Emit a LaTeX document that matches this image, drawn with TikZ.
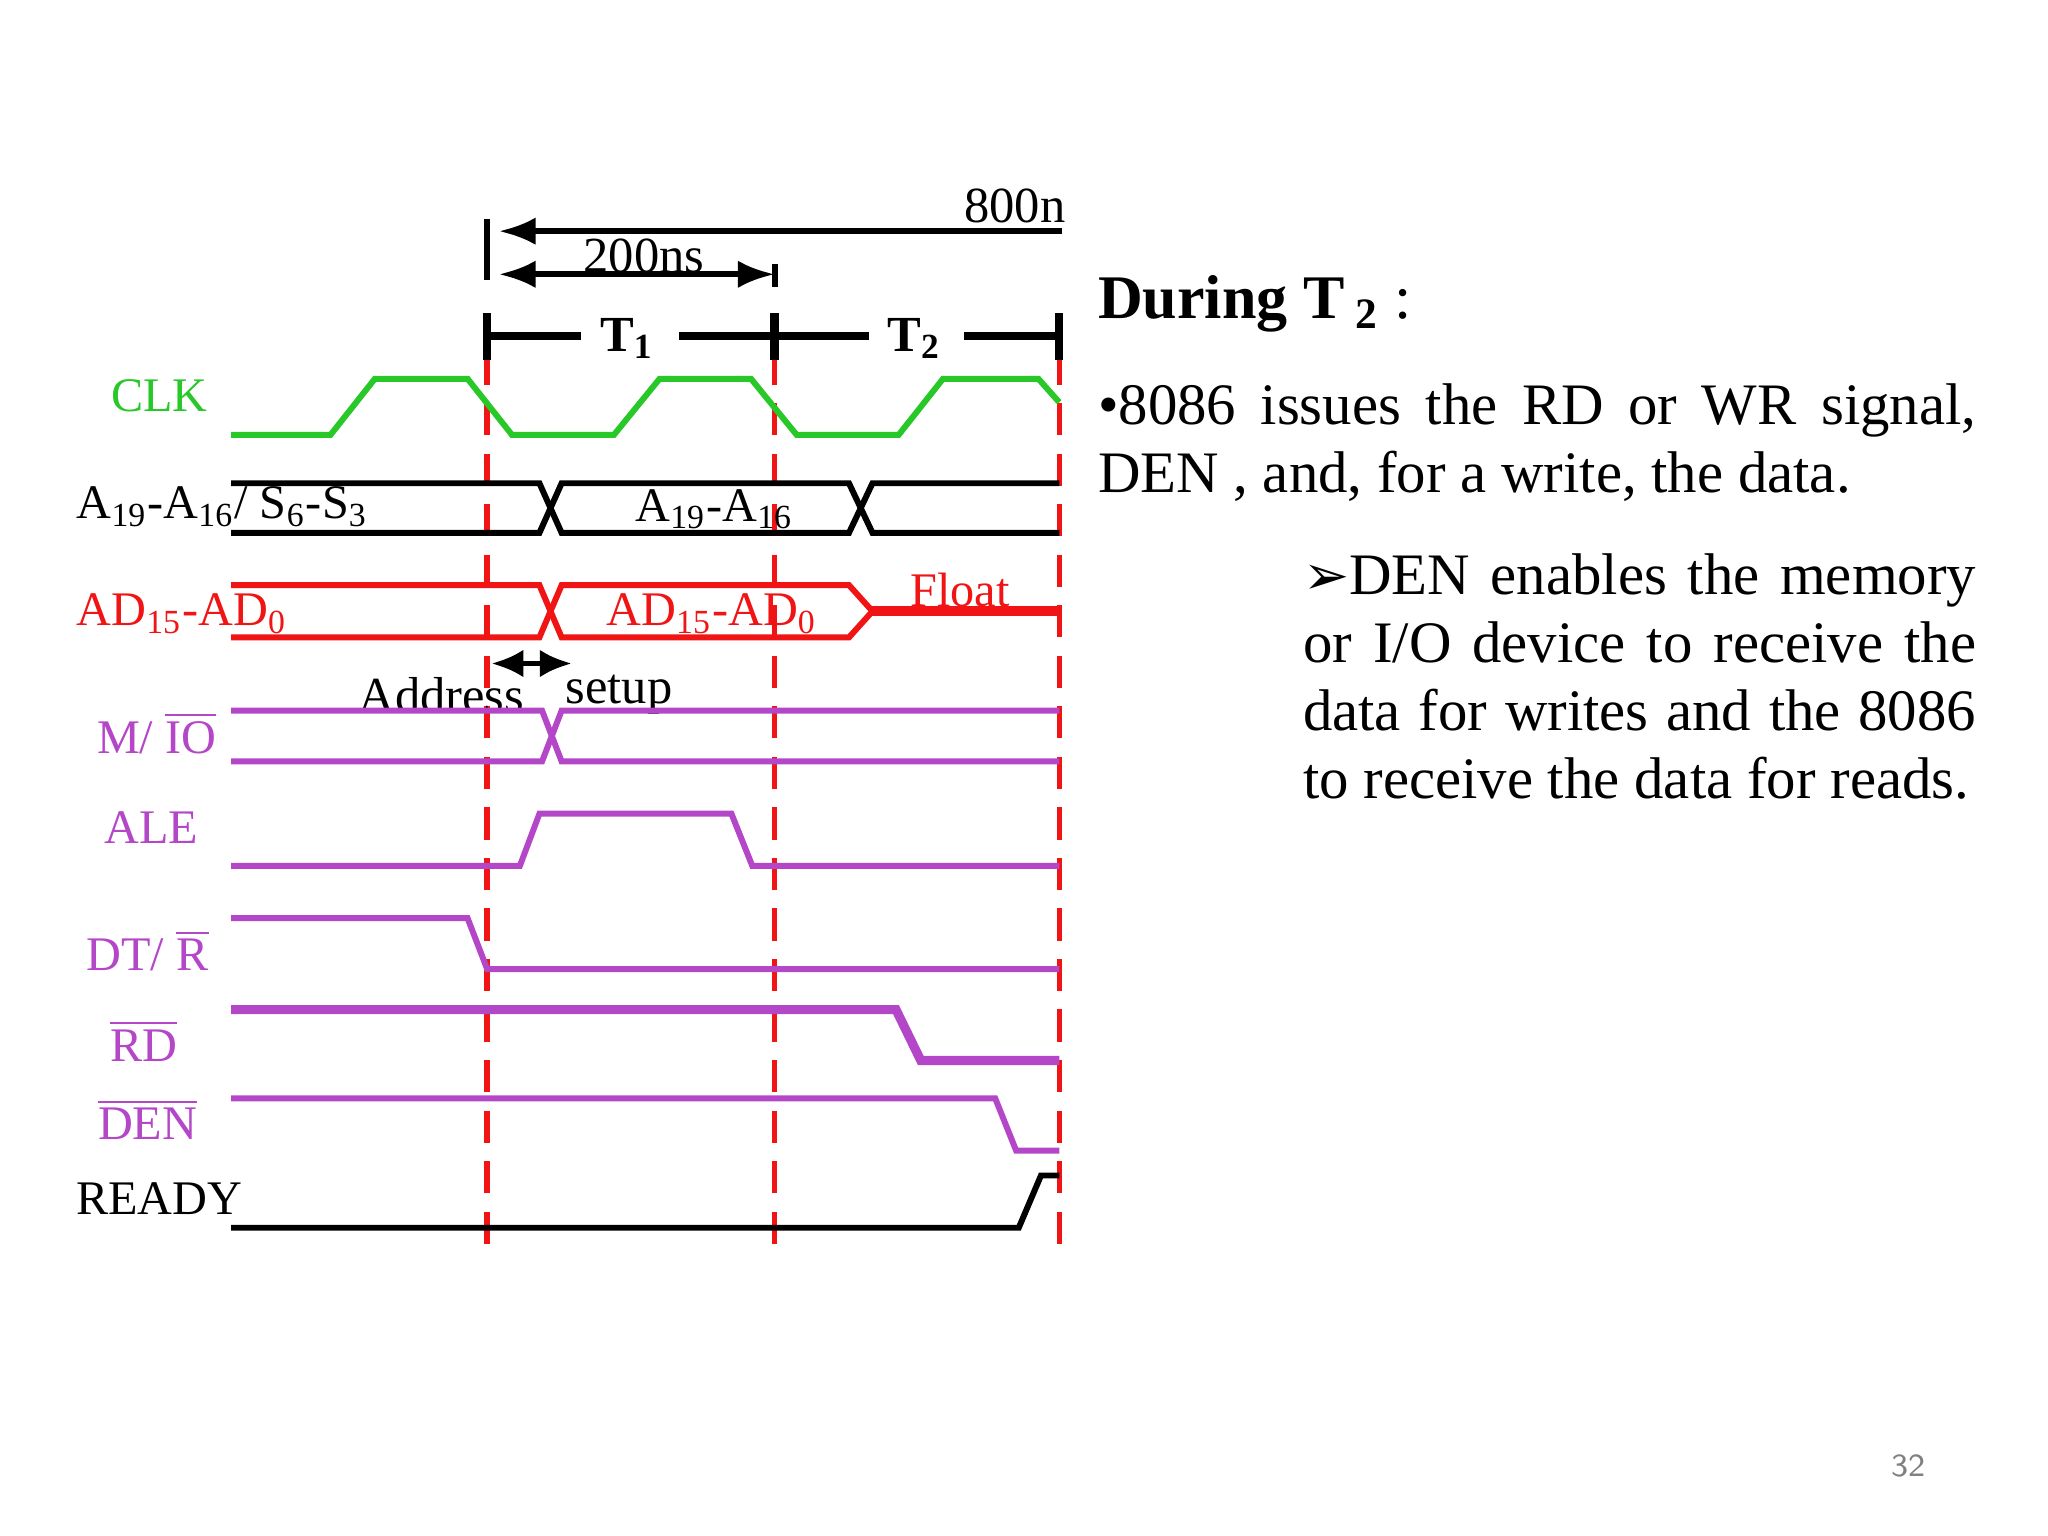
\documentclass[tikz,border=0pt]{standalone}
\usepackage{fontspec}
\setmainfont{Liberation Serif}
\usetikzlibrary{arrows.meta}
\definecolor{cg}{RGB}{40,200,40}
\definecolor{cp}{RGB}{180,70,200}
\definecolor{cr}{RGB}{240,20,20}
\tikzset{sig/.style={line width=1.3pt},
 lbl/.style={font=\fontsize{10.5}{12}\selectfont,inner sep=0pt},
 dsh/.style={cr,dashed,line width=1.2pt,dash pattern=on 7pt off 4pt},
 dim/.style={line width=1.3pt},
 tip/.style={-{Latex[length=8pt,width=6pt]}}}
\begin{document}
\begin{tikzpicture}[x=0.01cm,y=-0.01cm]
\useasboundingbox (0,0) rectangle (1568,1176);
\foreach \x/\n in {373/a,593/b,811/c}{\coordinate (t\n) at (\x,270); \coordinate (b\n) at (\x,962); \draw[dsh] (t\n)--(b\n);}
\coordinate (d1) at (813,177); \coordinate (d2) at (382,177);
\draw[dim,tip] (d1)--(d2);
\draw[dim] (373,168)--(373,214);
\node[lbl,font=\fontsize{11}{13}\selectfont] (n800) at (777,158) {800n};
\coordinate (e1) at (382,210); \coordinate (e2) at (593,210);
\draw[dim,{Latex[length=8pt,width=6pt]}-{Latex[length=8pt,width=6pt]}] (e1)--(e2);
\draw[dim] (593,202)--(593,220);
\node[lbl,font=\fontsize{11}{13}\selectfont] (n200) at (493,196) {200ns};
\draw[dim,line width=1.8pt] (373,257)--(445,257) (520,257)--(665,257) (738,257)--(811,257);
\foreach \x in {373,593,811} \draw[dim,line width=1.8pt] (\x,240)--(\x,276);
\node[lbl,font=\bfseries\fontsize{11}{13}\selectfont] (T1) at (480,259) {T\textsubscript{1}};
\node[lbl,font=\bfseries\fontsize{11}{13}\selectfont] (T2) at (700,259) {T\textsubscript{2}};
\draw[sig,cg] (177,333)--(253,333)--(287,290)--(358,290)--(392,333)--(470,333)--(505,290)--(575,290)--(610,333)--(688,333)--(722,290)--(795,290)--(811,308);
\node[lbl,cg] (lclk) at (122,303) {CLK};
\draw[sig] (177,370)--(413,370)--(430,408)--(650,408)--(668,370)--(811,370);
\draw[sig] (177,408)--(413,408)--(430,370)--(650,370)--(668,408)--(811,408);
\node[lbl,anchor=west] (la) at (58,388) {A\textsubscript{19}-A\textsubscript{16}/ S\textsubscript{6}-S\textsubscript{3}};
\node[lbl] (la2) at (547,390) {A\textsubscript{19}-A\textsubscript{16}};
\draw[sig,cr] (177,448)--(413,448)--(430,488)--(650,488)--(668,468);
\draw[sig,cr] (177,488)--(413,488)--(430,448)--(650,448)--(668,468);
\draw[cr,line width=2.2pt] (668,468)--(811,468);
\node[lbl,cr] (fl) at (735,452) {Float};
\node[lbl,cr,anchor=west] (lad) at (58,470) {AD\textsubscript{15}-AD\textsubscript{0}};
\node[lbl,cr] (lad2) at (545,470) {AD\textsubscript{15}-AD\textsubscript{0}};
\coordinate (s1) at (376,508); \coordinate (s2) at (438,508);
\draw[dim,{Latex[length=7pt,width=6pt]}-{Latex[length=7pt,width=6pt]}] (s1)--(s2);
\node[lbl,font=\fontsize{11}{13}\selectfont] (adr) at (338,532) {Address};
\node[lbl,font=\fontsize{11}{13}\selectfont] (stp) at (474,532) {setup};
\draw[sig,cp] (177,544)--(415,544)--(430,583)--(811,583);
\draw[sig,cp] (177,583)--(415,583)--(430,544)--(811,544);
\node[lbl,cp] (lm) at (120,561) {M/ $\overline{\mbox{IO}}$};
\draw[sig,cp] (177,663)--(398,663)--(413,623)--(560,623)--(576,663)--(811,663);
\node[lbl,cp] (lale) at (116,634) {ALE};
\draw[sig,cp] (177,703)--(358,703)--(373,742)--(811,742);
\node[lbl,cp] (ldt) at (113,728) {DT/ $\overline{\mbox{R}}$};
\draw[cp,line width=2pt] (177,773)--(686,773)--(705,812)--(811,812);
\node[lbl,cp] (lrd) at (110,797) {$\overline{\mbox{RD}}$};
\draw[sig,cp] (177,841)--(762,841)--(778,881)--(811,881);
\node[lbl,cp] (lden) at (113,857) {$\overline{\mbox{DEN}}$};
\draw[sig] (177,940)--(780,940)--(797,900)--(811,900);
\node[lbl] (lrdy) at (122,918) {READY};
\node[anchor=west,inner sep=0pt,font=\bfseries\fontsize{13.5}{16}\selectfont] (hd) at (840,233) {During T\textsubscript{ 2} \mdseries:};
\node[anchor=north west,inner sep=0pt,text width=6.72cm,align=justify,font=\fontsize{12.8}{14.8}\selectfont] (p1) at (840,293) {•8086 issues the RD or WR signal, DEN , and, for a write, the data.};
\node[anchor=north west,inner sep=0pt,text width=5.15cm,align=justify,font=\fontsize{12.8}{14.8}\selectfont] (p2) at (997,423) {{\fontspec{DejaVu Sans}\fontsize{12}{13}\selectfont ➢}DEN enables the memory or I/O device to receive the data for writes and the 8086 to receive the data for reads.};
\node[gray,font=\sffamily\fontsize{7}{8}\selectfont] (pg) at (1461,1122) {32};
\end{tikzpicture}
\end{document}
